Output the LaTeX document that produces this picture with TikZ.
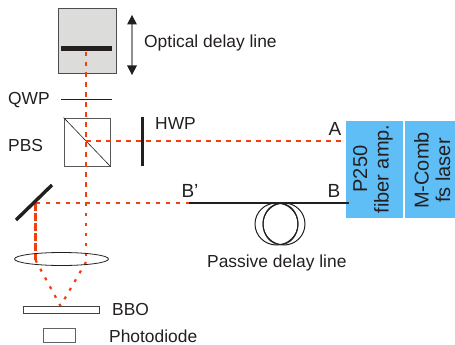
\documentclass[tikz,border=0pt]{standalone}
\usepackage{fontspec}
\usetikzlibrary{shapes.geometric}
\setmainfont{Liberation Sans}
\definecolor{beam}{HTML}{F04010}
\definecolor{ink}{HTML}{231F20}
\definecolor{stagegrey}{HTML}{DCDCDA}
\definecolor{laserblue}{HTML}{5FBEF5}
\tikzset{
  x=1pt,y=-1pt,
  lbl/.style={font=\fontsize{17.4}{20}\selectfont,text=ink,inner sep=0pt},
  biglbl/.style={font=\fontsize{19}{22}\selectfont,text=ink,inner sep=0pt},
  beamdash/.style={draw=beam,line width=2.7pt,dash pattern=on 4.5pt off 5.5pt},
  laserbox/.style={fill=laserblue,draw=none,inner sep=0pt,minimum height=97pt},
  lasertext/.style={inner sep=0pt,align=center,font=\fontsize{20}{21.5}\selectfont,text=ink},
}
\begin{document}
\begin{tikzpicture}
\useasboundingbox (0,0) rectangle (455,345);
% coordinates
\coordinate (mtop) at (86,52);
\coordinate (cross) at (86,141);
\coordinate (bottomcross) at (86,203);
\coordinate (lensR) at (86,262);
\coordinate (foldm) at (35.5,203);
\coordinate (lensL) at (35.5,260);
\coordinate (focus) at (60.5,306);
\coordinate (Bprime) at (189,203);
% stage
\node[draw=ink!80,line width=.8pt,fill=stagegrey,minimum width=58pt,minimum height=65pt,inner sep=0pt] (stage) at (87,40.5) {};
\node[fill=ink,minimum width=51pt,minimum height=5pt,inner sep=0pt] (mirror) at (86.5,48.5) {};
\coordinate (arrT) at (132,15);
\coordinate (arrB) at (132,75);
\draw[draw=ink!50,line width=1.2pt] (132,22) -- (132,66);
\fill[ink] (arrT) -- (137,24.5) -- (127,24.5) -- cycle;
\fill[ink] (arrB) -- (137,65.5) -- (127,65.5) -- cycle;
\node[lbl,anchor=west] (odl) at (144,43) {Optical delay line};
% QWP
\coordinate (qwpL) at (61,99.7);
\coordinate (qwpR) at (112,99.7);
\draw[draw=ink,line width=1.5pt] (qwpL) -- (qwpR);
\node[lbl,anchor=west] (qwp) at (8,99.7) {QWP};
% PBS
\node[draw=ink!75,line width=.8pt,minimum width=46pt,minimum height=48pt,inner sep=0pt] (pbs) at (87,142) {};
\draw[draw=ink,line width=.6pt] (pbs.north west) -- (pbs.south east);
\node[lbl,anchor=west] (pbslabel) at (8,146) {PBS};
% HWP
\coordinate (hwpT) at (142.5,117);
\coordinate (hwpB) at (142.5,166);
\node[lbl,anchor=west] (hwp) at (155,124) {HWP};
% Lasers
\node[laserbox,minimum width=57pt,anchor=north west] (amp) at (346,121) {};
\node[laserbox,minimum width=50pt,anchor=north west] (comb) at (405,121) {};
\node[lasertext] (amptext) at (373.5,169) {\rotatebox{90}{\begin{tabular}{@{}c@{}}P250\\fiber amp.\end{tabular}}};
\node[lasertext] (combtext) at (435,170.5) {\rotatebox{90}{\begin{tabular}{@{}c@{}}M-Comb\\fs laser\end{tabular}}};
\node[biglbl] (A) at (335,129) {A};
\node[biglbl] (B) at (334,191) {B};
\node[biglbl] (Bp) at (190,191) {B’};
\coordinate (Bend) at (349,203);
\coordinate (Aend) at (346,141);
% beams
\draw[beamdash] (mtop) -- (bottomcross);
\draw[beam,line width=2.6pt,dash pattern=on 3pt off 7pt] (bottomcross) -- (lensR);
\draw[beamdash] (cross) -- (Aend);
\draw[beamdash] (foldm) -- (Bprime);
\draw[draw=beam,line width=3.6pt,dash pattern=on 8pt off 2pt] (foldm) -- (lensL);
\draw[draw=beam,line width=2.2pt,dash pattern=on 3pt off 7pt] (lensL) -- (focus);
\draw[draw=beam,line width=2.2pt,dash pattern=on 3pt off 7pt] (lensR) -- (focus);
\draw[draw=ink,line width=3pt] (hwpT) -- (hwpB);
% fold mirror
\coordinate (fmA) at (16,220);
\coordinate (fmB) at (52,185);
\draw[draw=ink,line width=3.4pt] (fmA) -- (fmB);
% fibre
\draw[draw=ink,line width=1.5pt] (Bprime) -- (Bend);
\draw[draw=ink,line width=1pt] (276.5,224) ellipse (21.5 and 21);
\draw[draw=ink,line width=1pt] (284,224) ellipse (21 and 21);
\draw[draw=ink,line width=1pt] (280.5,224) ellipse (17.5 and 20.5);
\node[lbl,anchor=west] (pdl) at (207,263) {Passive delay line};
% lens
\node[draw=ink,line width=.8pt,ellipse,minimum width=94pt,minimum height=13pt,inner sep=0pt] (lens) at (61.5,259) {};
% detector
\node[draw=ink!85,line width=.8pt,fill=white,minimum width=76pt,minimum height=7pt,inner sep=0pt] (bbo) at (61,310) {};
\node[lbl,anchor=west] (bbolabel) at (112,310) {BBO};
\node[draw=ink!70,line width=1pt,fill=white,minimum width=32pt,minimum height=14pt,inner sep=0pt] (pd) at (59.5,335) {};
\node[lbl,anchor=west] (pdlabel) at (109,336) {Photodiode};
\end{tikzpicture}
\end{document}
